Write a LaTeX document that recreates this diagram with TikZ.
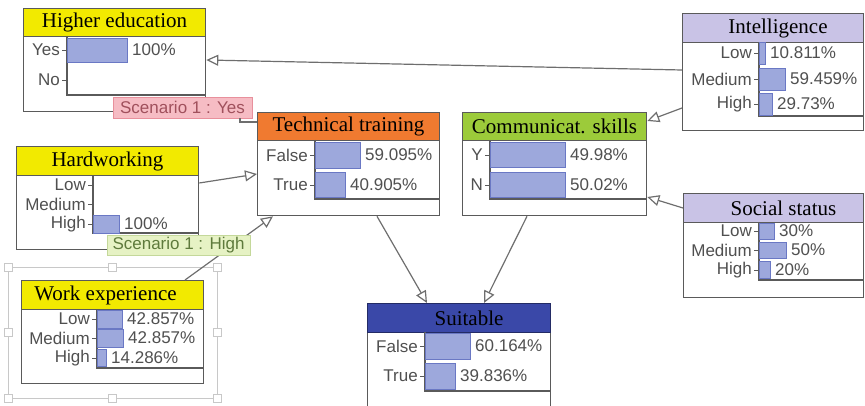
\documentclass[tikz,border=0pt]{standalone}
\usepackage{fontspec}
\setmainfont{Liberation Serif}
\newfontfamily\labelfont{Liberation Sans}
\usetikzlibrary{arrows.meta}

\definecolor{hdyellow}{HTML}{F2EA00}
\definecolor{hdorange}{HTML}{F07A30}
\definecolor{hdgreen}{HTML}{9CCB3A}
\definecolor{hdlilac}{HTML}{C9C3E6}
\definecolor{hdnavy}{HTML}{3A48A8}
\definecolor{barfill}{HTML}{9DA8DC}
\definecolor{baredge}{HTML}{6A78C4}
\definecolor{framegray}{HTML}{5A5A5A}
\definecolor{txtgray}{HTML}{505050}
\definecolor{linkgray}{HTML}{6E6E6E}
\definecolor{yesfill}{HTML}{F6BCC4}
\definecolor{yesedge}{HTML}{E8909C}
\definecolor{yestext}{HTML}{A0505C}
\definecolor{highfill}{HTML}{E6F2C4}
\definecolor{highedge}{HTML}{C4D89A}
\definecolor{hightext}{HTML}{5E7A3C}
\definecolor{selgray}{HTML}{C8C8C8}

\tikzset{
  netbox/.style={draw=framegray, line width=1.3pt, fill=white, inner sep=0pt, anchor=north west},
  titlebar/.style={draw=framegray, line width=1pt, inner sep=0pt, anchor=north west,
    minimum height=29pt, text=black, font=\fontsize{21}{24}\selectfont},
  lbl/.style={inner sep=0pt, anchor=east, text=txtgray, font=\labelfont\fontsize{17}{19}\selectfont},
  pct/.style={lbl, anchor=west},
  bar/.style={fill=barfill, draw=baredge, line width=0.7pt},
  tick/.style={draw=framegray, line width=0.8pt},
  chart/.style={draw=framegray, line width=1.1pt},
  link/.style={draw=linkgray, line width=1.2pt, -{Triangle[open, length=12pt, width=11pt]}},
  scenario/.style={inner sep=0pt, line width=0.8pt, font=\labelfont\fontsize{17}{19}\selectfont},
  handle/.style={draw=selgray, fill=white, line width=0.8pt, minimum size=8pt, inner sep=0pt},
}

\begin{document}
\begin{tikzpicture}[x=1pt,y=-1pt]
\useasboundingbox (0,0) rectangle (865,406);
\clip (0,0) rectangle (865,406);

% draw selection frame round work experience
\draw[selgray, line width=0.8pt] (8,267) rectangle (217,398);
\foreach \hx/\hy [count=\i] in {8/267,112/267,217/267,8/332,217/332,8/398,112/398,217/398}
  \node[handle] (sel\i) at (\hx,\hy) {};

% draw higher education
\node[netbox, minimum width=182pt, minimum height=103pt] (hied) at (23,8) {};
\node[titlebar, fill=hdyellow, minimum width=182pt, minimum height=28pt] (hied-t) at (hied.north west) {Higher education};
\draw[chart] (67,36) |- (205,95);
\foreach \lab/\yy [count=\i] in {Yes/50,No/80} {
  \node[lbl] (hied-l\i) at (60,\yy) {\lab};
  \draw[tick] (62,\yy) -- (67,\yy);
}
\draw[bar] (67,38) rectangle (127,62);
\node[pct] (hied-p1) at (132,50) {100\%};

% draw technical training
\node[netbox, minimum width=182pt, minimum height=103pt] (techtr) at (257,112) {};
\node[titlebar, fill=hdorange, minimum width=182pt, minimum height=28pt] (techtr-t) at (techtr.north west) {Technical training};
\draw[chart] (315,140) |- (439,199);
\foreach \lab/\yy/\len/\hh/\pct [count=\i] in {False/155/45/26/59.095\%, True/185/30/25/40.905\%} {
  \node[lbl] (techtr-l\i) at (308,\yy) {\lab};
  \draw[tick] (310,\yy) -- (315,\yy);
  \draw[bar] (315,\yy-\hh/2) rectangle ++(\len,\hh);
  \node[pct] (techtr-p\i) at (315+\len+5,\yy) {\pct};
}

% draw communication skills
\node[netbox, minimum width=184pt, minimum height=103pt] (comm) at (462,112) {};
\node[titlebar, fill=hdgreen, minimum width=184pt, minimum height=28pt] (comm-t) at (comm.north west) {Communicat. skills};
\draw[chart] (490,140) |- (646,199);
\foreach \lab/\yy/\len/\hh/\pct [count=\i] in {Y/155/75/25/49.98\%, N/185/75/25/50.02\%} {
  \node[lbl] (comm-l\i) at (483,\yy) {\lab};
  \draw[tick] (485,\yy) -- (490,\yy);
  \draw[bar] (490,\yy-\hh/2) rectangle ++(\len,\hh);
  \node[pct] (comm-p\i) at (490+\len+5,\yy) {\pct};
}

% draw intelligence
\node[netbox, minimum width=181pt, minimum height=117pt] (intel) at (682,13) {};
\node[titlebar, fill=hdlilac, minimum width=181pt] (intel-t) at (intel.north west) {\hspace*{10pt}Intelligence};
\draw[chart] (759,42) |- (863,116);
\foreach \lab/\yy/\len/\hh/\pct [count=\i] in {Low/53/6/22/10.811\%, Medium/79/26/22/59.459\%, High/104/13/22/29.73\%} {
  \node[lbl] (intel-l\i) at (752,\yy) {\lab};
  \draw[tick] (754,\yy) -- (759,\yy);
  \draw[bar] (759,\yy-\hh/2) rectangle ++(\len,\hh);
  \node[pct] (intel-p\i) at (759+\len+5,\yy) {\pct};
}

% draw social status
\node[netbox, minimum width=180pt, minimum height=104pt] (social) at (683,193) {};
\node[titlebar, fill=hdlilac, minimum width=180pt] (social-t) at (social.north west) {\hspace*{20pt}Social status};
\draw[chart] (759,222) |- (863,280);
\foreach \lab/\yy/\len/\hh/\pct [count=\i] in {Low/231/15/16/30\%, Medium/250/27/16/50\%, High/270/11/17/20\%} {
  \node[lbl] (social-l\i) at (752,\yy) {\lab};
  \draw[tick] (754,\yy) -- (759,\yy);
  \draw[bar] (759,\yy-\hh/2) rectangle ++(\len,\hh);
  \node[pct] (social-p\i) at (759+\len+5,\yy) {\pct};
}

% draw hardworking
\node[netbox, minimum width=182pt, minimum height=103pt] (hardw) at (16,146) {};
\node[titlebar, fill=hdyellow, minimum width=182pt] (hardw-t) at (hardw.north west) {Hardworking};
\draw[chart] (93,175) |- (198,233);
\foreach \lab/\yy [count=\i] in {Low/185,Medium/204,High/224} {
  \node[lbl] (hardw-l\i) at (86,\yy) {\lab};
  \draw[tick] (88,\yy) -- (93,\yy);
}
\draw[bar] (93,215) rectangle (119,233);
\node[pct] (hardw-p1) at (124,224) {100\%};

% draw work experience
\node[netbox, minimum width=182pt, minimum height=103pt] (workexp) at (21,280) {};
\node[titlebar, fill=hdyellow, minimum width=182pt] (workexp-t) at (workexp.north west) {Work experience\hspace*{14pt}};
\draw[chart] (97,309) |- (203,368);
\foreach \lab/\yy/\len/\hh/\pct [count=\i] in {Low/319/25/18/42.857\%, Medium/338/26/18/42.857\%, High/358/9/17/14.286\%} {
  \node[lbl] (workexp-l\i) at (90,\yy) {\lab};
  \draw[tick] (92,\yy) -- (97,\yy);
  \draw[bar] (97,\yy-\hh/2) rectangle ++(\len,\hh);
  \node[pct] (workexp-p\i) at (97+\len+5,\yy) {\pct};
}

% draw suitable
\node[netbox, minimum width=183pt, minimum height=110pt] (suit) at (367,303) {};
\node[titlebar, fill=hdnavy, draw=hdnavy!60!black, minimum width=183pt] (suit-t) at (suit.north west) {\hspace*{20pt}Suitable};
\draw[chart] (425,332) |- (550,391);
\foreach \lab/\yy/\len/\hh/\pct [count=\i] in {False/346/45/26/60.164\%, True/376/30/26/39.836\%} {
  \node[lbl] (suit-l\i) at (418,\yy) {\lab};
  \draw[tick] (420,\yy) -- (425,\yy);
  \draw[bar] (425,\yy-\hh/2) rectangle ++(\len,\hh);
  \node[pct] (suit-p\i) at (425+\len+5,\yy) {\pct};
}

% draw arrows
\draw[link] (intel.west |- 0,70) -- (hied.east |- 0,60);
\draw[link] (intel.west |- 0,108) -- (comm.east |- 0,121);
\draw[link] (social.west |- 0,208) -- (comm.east |- 0,197);
\draw[link] (hardw.east |- 0,183) -- (techtr.west |- 0,174);
\draw[link] (workexp.north -| 185,0) -- (techtr.south -| 273,0);
\draw[link] (techtr.south -| 377,0) -- (suit.north -| 427,0);
\draw[link] (comm.south -| 527,0) -- (suit.north -| 484,0);

% draw scenario labels
\node[scenario, fill=yesfill, draw=yesedge, text=yestext, minimum width=139pt, minimum height=21pt] (sc-yes) at (182.5,107.5) {Scenario 1 : Yes};
\draw[linkgray, line width=1.2pt] (sc-yes.south -| 240,0) |- (techtr.west |- 0,122);
\node[scenario, fill=highfill, draw=highedge, text=hightext, minimum width=143pt, minimum height=20pt] (sc-high) at (178.5,245.5) {Scenario 1 : High};
\end{tikzpicture}
\end{document}
